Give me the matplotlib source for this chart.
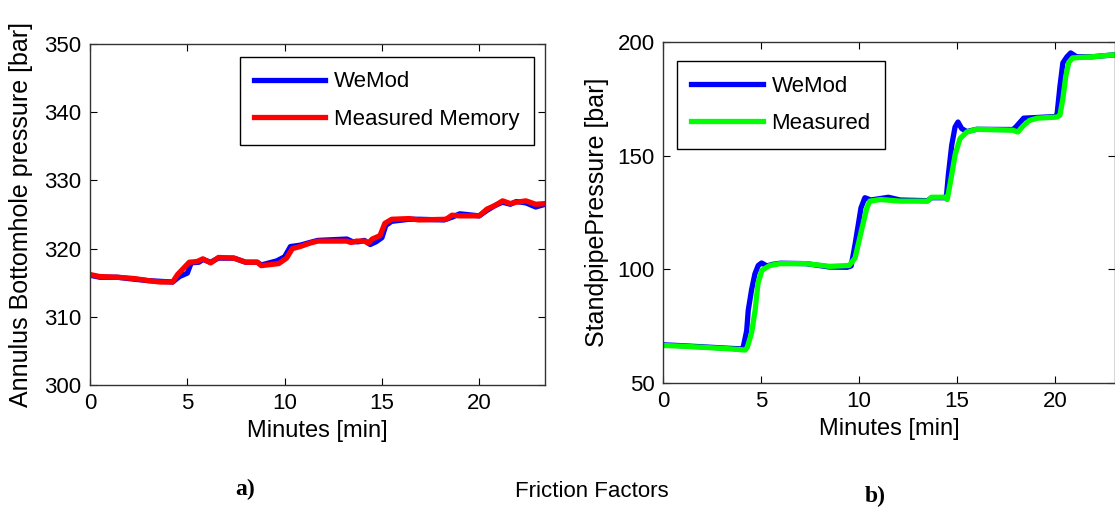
import numpy as np
import matplotlib.pyplot as plt

plt.rcParams['font.family'] = ['Liberation Sans', 'DejaVu Sans']

# a) annulus bottomhole pressure [bar]
t_wemod_a = [0, 0.5, 1.4, 2.3, 3.0, 3.6, 4.25, 4.6, 5.0, 5.2, 5.6, 5.8, 6.2, 6.6, 7.4, 8.0,
             8.6, 8.8, 9.6, 10.0, 10.3, 10.8, 11.3, 11.7, 13.2, 13.5, 13.8, 14.1, 14.4, 14.7,
             15.0, 15.2, 15.5, 16.4, 16.9, 18.2, 18.6, 19.0, 20.0, 20.4, 20.8, 21.2, 21.6,
             21.9, 22.4, 22.9, 23.4]
p_wemod_a = [316.1, 315.8, 315.8, 315.5, 315.3, 315.2, 315.1, 315.9, 316.4, 317.9, 318.0,
             318.4, 318.0, 318.6, 318.6, 318.0, 318.0, 317.6, 318.2, 318.8, 320.3, 320.5,
             320.9, 321.2, 321.4, 321.0, 321.0, 321.2, 320.6, 321.0, 321.6, 323.4, 324.0,
             324.3, 324.3, 324.2, 324.6, 325.1, 324.8, 325.6, 326.3, 326.8, 326.5, 326.9,
             326.7, 326.1, 326.5]
t_meas_a = [0, 0.5, 1.4, 2.3, 3.0, 3.6, 4.25, 4.5, 4.9, 5.1, 5.5, 5.8, 6.2, 6.6, 7.4, 8.0,
            8.6, 8.8, 9.7, 10.1, 10.4, 10.8, 11.3, 11.7, 13.2, 13.4, 13.7, 14.1, 14.3, 14.5,
            14.9, 15.15, 15.5, 16.4, 16.9, 18.3, 18.6, 19.0, 20.0, 20.4, 20.8, 21.2, 21.6,
            21.9, 22.4, 22.9, 23.4]
p_meas_a = [316.2, 315.9, 315.8, 315.6, 315.3, 315.1, 315.1, 316.2, 317.4, 318.0, 318.1,
            318.5, 317.9, 318.7, 318.6, 318.0, 318.0, 317.5, 317.8, 318.6, 320.0, 320.3,
            320.8, 321.1, 321.1, 320.9, 321.1, 321.1, 320.8, 321.4, 321.9, 323.7, 324.3,
            324.4, 324.2, 324.3, 324.9, 324.8, 324.8, 325.8, 326.3, 327.0, 326.6, 326.8,
            327.0, 326.5, 326.6]

# b) standpipe pressure [bar]
t_wemod_b = [0, 1.0, 3.3, 4.0, 4.1, 4.27, 4.35, 4.52, 4.69, 4.86, 5.03, 5.3, 5.6, 6.0, 7.3,
             8.5, 9.4, 9.6, 9.8, 9.97, 10.1, 10.3, 10.6, 11.5, 12.1, 13.5, 13.7, 14.4, 14.47,
             14.56, 14.73, 14.9, 15.05, 15.24, 15.5, 16.0, 17.85, 18.0, 18.4, 19.1, 20.0,
             20.1, 20.25, 20.4, 20.6, 20.8, 21.1, 21.9, 23.2]
p_wemod_b = [66.8, 66.4, 65.3, 65.0, 66.0, 73, 82, 91, 98, 101.7, 102.8, 101.5, 102.2, 102.7,
             102.5, 101.0, 100.9, 101.5, 111, 120, 127, 131.5, 130.5, 131.7, 130.5, 130.2,
             131.5, 131.5, 133, 141.7, 154.6, 162.6, 164.8, 161.9, 160.6, 161.6, 161.5, 162.6,
             166.5, 166.8, 167.2, 167.8, 180.4, 190.8, 193.4, 195.2, 193.5, 193.5, 194.5]
t_meas_b = [0, 1.0, 3.3, 4.2, 4.3, 4.52, 4.7, 4.85, 5.05, 5.45, 5.95, 7.3, 8.5, 9.5, 9.8,
            10.15, 10.4, 10.55, 11.1, 12.1, 13.5, 13.7, 14.4, 14.5, 14.73, 14.9, 15.15, 15.5,
            16.0, 17.85, 18.1, 18.4, 18.7, 19.1, 20.1, 20.25, 20.4, 20.55, 20.7, 20.9,
            21.9, 23.2]
p_meas_b = [66.5, 66.2, 65.1, 64.5, 65.7, 72, 82, 94, 99.6, 101.7, 102.5, 102.5, 101.3,
            101.7, 105, 118, 127, 130, 130.7, 130, 130, 131.7, 131.7, 130.7, 141.6, 150.3,
            157.5, 160.4, 161.6, 161.2, 160.4, 163.3, 165.5, 166.5, 167, 167.8, 175, 185,
            191, 193, 193.5, 194.5]

fig = plt.figure(figsize=(11.15, 5.11), dpi=100)
ax1 = fig.add_axes([0.0807, 0.2466, 0.4081, 0.6673])
ax2 = fig.add_axes([0.5946, 0.2505, 0.4054, 0.6673])

leg_kw = dict(fontsize=16, handlelength=3.2, handletextpad=0.4, fancybox=False,
              edgecolor='black', framealpha=1, borderpad=0.65, labelspacing=0.75,
              borderaxespad=0)

ax1.plot(t_wemod_a, p_wemod_a, color='#0000ff', lw=3.8, label='WeMod')
ax1.plot(t_meas_a, p_meas_a, color='#ff0000', lw=3.8, label='Measured Memory')
ax1.set_xlim(0, 23.38)
ax1.set_ylim(300, 350)
ax1.set_yticks(np.arange(300, 351, 10))
ax1.set_xticks([0, 5, 10, 15, 20])
ax1.set_xlabel('Minutes [min]', fontsize=17)
ax1.set_ylabel('Annulus Bottomhole pressure [bar]', fontsize=18, labelpad=8)
ax1.legend(loc='upper right', bbox_to_anchor=(0.976, 0.962), **leg_kw)

ax2.plot(t_wemod_b, p_wemod_b, color='#0000ff', lw=3.8, label='WeMod')
ax2.plot(t_meas_b, p_meas_b, color='#00ff00', lw=3.8, label='Measured')
ax2.set_xlim(0, 23.06)
ax2.set_ylim(50, 200)
ax2.set_yticks([50, 100, 150, 200])
ax2.set_xticks([0, 5, 10, 15, 20])
ax2.set_xlabel('Minutes [min]', fontsize=17)
ax2.set_ylabel('StandpipePressure [bar]', fontsize=18, labelpad=6)
ax2.legend(loc='upper left', bbox_to_anchor=(0.031, 0.944), **leg_kw)

for ax in (ax1, ax2):
    ax.tick_params(direction='in', top=True, right=True, length=5, labelsize=16, pad=6)
    for s in ax.spines.values():
        s.set_color('#333333')
        s.set_linewidth(1.0)

fig.text(0.22, 0.043, 'a)', fontsize=17, fontweight='bold', family='Liberation Serif',
         ha='center', va='center')
fig.text(0.531, 0.039, 'Friction Factors', fontsize=16, ha='center', va='center')
fig.text(0.785, 0.028, 'b)', fontsize=17, fontweight='bold', family='Liberation Serif',
         ha='center', va='center')

fig.savefig('out.png', dpi=100)
